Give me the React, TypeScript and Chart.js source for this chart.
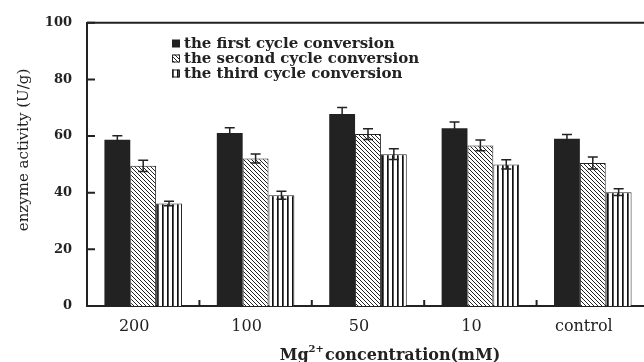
import React, { useEffect, useRef } from "react";
import { Chart, registerables } from "chart.js";

Chart.register(...registerables);

const categories = ["200", "100", "50", "10", "control"];
const seriesLabels = [
  "the first cycle conversion",
  "the second cycle conversion",
  "the third cycle conversion",
];
const firstCycle = [58.7, 61.1, 67.8, 62.8, 59.1];
const firstErr = [1.4, 1.8, 2.3, 2.2, 1.5];
const secondCycle = [49.5, 52.1, 60.7, 56.7, 50.5];
const secondErr = [2.0, 1.6, 1.9, 1.9, 2.1];
const thirdCycle = [36.2, 39.1, 53.6, 50.0, 40.2];
const thirdErr = [0.8, 1.4, 1.9, 1.6, 1.2];
const yTicks = [0, 20, 40, 60, 80, 100];
const xTitleMain = "Mg";
const xTitleSup = "2+";
const xTitleRest = "concentration(mM)";
const yTitle = "enzyme activity (U/g)";

const INK = "#222";

function makeHatch(): CanvasPattern | string {
  const c = document.createElement("canvas");
  c.width = 4;
  c.height = 4;
  const g = c.getContext("2d");
  if (!g) return "#888";
  g.fillStyle = "#fff";
  g.fillRect(0, 0, 4, 4);
  g.strokeStyle = INK;
  g.lineWidth = 1;
  g.beginPath();
  g.moveTo(-1, -1);
  g.lineTo(5, 5);
  g.moveTo(3, -1);
  g.lineTo(5, 1);
  g.moveTo(-1, 3);
  g.lineTo(1, 5);
  g.stroke();
  return g.createPattern(c, "repeat") || "#888";
}

function makeVertical(): CanvasPattern | string {
  const c = document.createElement("canvas");
  c.width = 5;
  c.height = 5;
  const g = c.getContext("2d");
  if (!g) return "#ccc";
  g.fillStyle = "#fff";
  g.fillRect(0, 0, 5, 5);
  g.fillStyle = "#111";
  g.fillRect(2, 0, 1.7, 5);
  return g.createPattern(c, "repeat") || "#ccc";
}

export default function App() {
  const ref = useRef<HTMLCanvasElement | null>(null);

  useEffect(() => {
    document.body.style.margin = "0";
    document.body.style.overflow = "hidden";
    const canvas = ref.current;
    if (!canvas) return;
    const hatch = makeHatch();
    const vert = makeVertical();
    const fills: any[] = [INK, hatch, vert];
    const errs = [firstErr, secondErr, thirdErr];

    const decor = {
      id: "decor",
      afterDatasetsDraw(chart: any) {
        const ctx = chart.ctx;
        const y = chart.scales.y;
        ctx.save();
        ctx.strokeStyle = INK;
        ctx.lineWidth = 1.5;
        chart.data.datasets.forEach((ds: any, di: number) => {
          const meta = chart.getDatasetMeta(di);
          meta.data.forEach((bar: any, i: number) => {
            const v = ds.data[i];
            const e = errs[di][i];
            const yt = y.getPixelForValue(v + e);
            const yb = y.getPixelForValue(v - e);
            const x = bar.x;
            ctx.beginPath();
            ctx.moveTo(x, yt);
            ctx.lineTo(x, yb);
            ctx.moveTo(x - 5, yt);
            ctx.lineTo(x + 5, yt);
            ctx.moveTo(x - 5, yb);
            ctx.lineTo(x + 5, yb);
            ctx.stroke();
          });
        });
        ctx.restore();
      },
      afterDraw(chart: any) {
        const ctx = chart.ctx;
        const a = chart.chartArea;
        const x = chart.scales.x;
        const y = chart.scales.y;
        ctx.save();
        ctx.strokeStyle = INK;
        ctx.lineWidth = 2;
        ctx.beginPath();
        ctx.moveTo(a.left, a.top);
        ctx.lineTo(a.right, a.top);
        ctx.lineTo(a.right, a.bottom);
        ctx.stroke();
        ctx.beginPath();
        yTicks.forEach((t) => {
          const py = y.getPixelForValue(t);
          ctx.moveTo(a.left, py);
          ctx.lineTo(a.left + 8, py);
        });
        for (let i = 0; i < categories.length - 1; i++) {
          const px = (x.getPixelForValue(i) + x.getPixelForValue(i + 1)) / 2;
          ctx.moveTo(px, a.bottom);
          ctx.lineTo(px, a.bottom - 6);
        }
        ctx.stroke();

        const lx = 172;
        const rows = [43.5, 58.5, 73.5];
        ctx.font = "bold 15px 'DejaVu Serif'";
        ctx.textBaseline = "middle";
        ctx.textAlign = "left";
        rows.forEach((ry, i) => {
          ctx.fillStyle = fills[i];
          ctx.fillRect(lx, ry - 4, 8, 8);
          if (i > 0) {
            ctx.lineWidth = 1;
            ctx.strokeStyle = INK;
            ctx.strokeRect(lx + 0.5, ry - 3.5, 7, 7);
          }
          ctx.fillStyle = INK;
          ctx.fillText(seriesLabels[i], lx + 12, ry + 1);
        });

        const fMain = "bold 16px 'DejaVu Serif'";
        const fSup = "bold 10px 'DejaVu Serif'";
        ctx.font = fMain;
        const w1 = ctx.measureText(xTitleMain).width;
        const w3 = ctx.measureText(xTitleRest).width;
        ctx.font = fSup;
        const w2 = ctx.measureText(xTitleSup).width + 1;
        const total = w1 + w2 + w3;
        let sx = 390 - total / 2;
        ctx.textBaseline = "alphabetic";
        ctx.font = fMain;
        ctx.fillText(xTitleMain, sx, 360);
        sx += w1;
        ctx.font = fSup;
        ctx.fillText(xTitleSup, sx, 352);
        sx += w2;
        ctx.font = fMain;
        ctx.fillText(xTitleRest, sx, 360);

        ctx.save();
        ctx.translate(24, 150);
        ctx.rotate(-Math.PI / 2);
        ctx.font = "15px 'DejaVu Serif'";
        ctx.textAlign = "center";
        ctx.textBaseline = "middle";
        ctx.fillText(yTitle, 0, 0);
        ctx.restore();

        ctx.restore();
      },
    };

    const chart = new Chart(canvas, {
      type: "bar",
      data: {
        labels: categories,
        datasets: [
          {
            label: seriesLabels[0],
            data: firstCycle,
            backgroundColor: INK,
            borderColor: INK,
            borderWidth: 0,
          },
          {
            label: seriesLabels[1],
            data: secondCycle,
            backgroundColor: hatch as any,
            borderColor: INK,
            borderWidth: 1,
          },
          {
            label: seriesLabels[2],
            data: thirdCycle,
            backgroundColor: vert as any,
            borderColor: INK,
            borderWidth: 1,
          },
        ],
      },
      options: {
        responsive: false,
        animation: false,
        devicePixelRatio: 1,
        layout: { padding: { top: 16, right: 13, left: 0, bottom: 0 } },
        datasets: {
          bar: { categoryPercentage: 0.69, barPercentage: 1.0 },
        },
        plugins: {
          legend: { display: false },
          tooltip: { enabled: false },
          title: { display: false },
        },
        scales: {
          x: {
            offset: true,
            grid: { display: false, drawTicks: false },
            border: { display: true, color: INK, width: 2 },
            ticks: {
              color: INK,
              padding: 11,
              labelOffset: -9,
              font: { family: "'DejaVu Serif'", size: 16 },
            },
            afterFit: (s: any) => {
              s.height = 56;
            },
          },
          y: {
            min: 0,
            max: 100,
            ticks: {
              stepSize: 20,
              color: INK,
              padding: 15,
              font: { family: "'DejaVu Serif'", size: 13, weight: "bold" },
            },
            grid: { display: false, drawTicks: false },
            border: { display: true, color: INK, width: 2 },
            afterFit: (s: any) => {
              s.width = 87;
            },
          },
        },
      },
      plugins: [decor],
    });
    return () => chart.destroy();
  }, []);

  return (
    <div style={{ width: 644, height: 362, overflow: "hidden", position: "relative", background: "#fff" }}>
      <canvas ref={ref} width={662} height={362} style={{ display: "block", width: 662, height: 362 }} />
    </div>
  );
}
